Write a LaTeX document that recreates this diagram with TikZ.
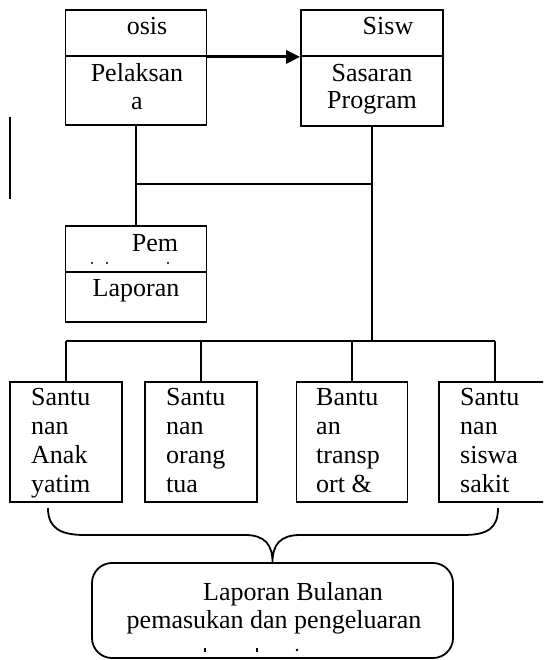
\documentclass[tikz,border=0pt]{standalone}
\usepackage{fontspec}
\setmainfont{Liberation Serif}
\usetikzlibrary{arrows.meta}
\begin{document}
\begin{tikzpicture}[x=1pt,y=-1pt,
  box/.style={draw, line width=1.8pt, inner sep=0pt},
  txt/.style={anchor=base, inner sep=0pt, font=\fontsize{26}{29}\selectfont},
  ltxt/.style={anchor=base west, inner sep=0pt, font=\fontsize{26}{29}\selectfont},
  conn/.style={line width=1.8pt},
  tick/.style={fill=black, inner sep=0pt, minimum width=2pt, minimum height=4pt}]
\useasboundingbox (0,0) rectangle (543,660);
\fill[white] (0,0) rectangle (543,660);
\clip (0,0) rectangle (543,660);

% top-left box
\node[box, minimum width=141pt, minimum height=46pt] (osisTop) at (136,33) {};
\node[box, minimum width=141pt, minimum height=69pt] (osisBot) at (136,90.5) {};
\node[txt] (t1) at (147,35) {osis};
\node[txt] (t2) at (137,82) {Pelaksan};
\node[txt] (t3) at (137,110) {a};

% top-right box
\node[box, minimum width=142pt, minimum height=46pt] (sisTop) at (372,33) {};
\node[box, minimum width=142pt, minimum height=70pt] (sisBot) at (372,91) {};
\node[txt] (t4) at (388,35) {Sisw};
\node[txt] (t5) at (372,82) {Sasaran};
\node[txt] (t6) at (372,109) {Program};

% arrow
\draw[line width=3pt, -{Triangle[length=14pt,width=13pt]}] (osisTop.south east) -- (sisTop.south west);

% stray line
\draw[line width=2pt] (10,117) -- (10,199);

% Pem box
\node[box, minimum width=141pt, minimum height=46pt] (pemTop) at (136,249) {};
\node[box, minimum width=141pt, minimum height=50pt] (pemBot) at (136,297) {};
\node[txt] (t7) at (155,251) {Pem};
\fill (92,263) circle (1.2pt) (107,263) circle (1.2pt) (168,263) circle (1.2pt);
\node[txt] (t8) at (136,296) {Laporan};

% bottom boxes
\node[box, minimum width=112pt, minimum height=120pt] (b1) at (66,442) {};
\node[box, minimum width=112pt, minimum height=120pt] (b2) at (201,442) {};
\node[box, minimum width=111pt, minimum height=120pt] (b3) at (352,442) {};
\node[box, minimum width=112pt, minimum height=120pt] (b4) at (495,442) {};

\node[ltxt] (b1a) at (31,405) {Santu};
\node[ltxt] (b1b) at (31,434) {nan};
\node[ltxt] (b1c) at (31,463) {Anak};
\node[ltxt] (b1d) at (31,492) {yatim};
\node[ltxt] (b2a) at (166,405) {Santu};
\node[ltxt] (b2b) at (166,434) {nan};
\node[ltxt] (b2c) at (166,463) {orang};
\node[ltxt] (b2d) at (166,492) {tua};
\node[ltxt] (b3a) at (316,405) {Bantu};
\node[ltxt] (b3b) at (316,434) {an};
\node[ltxt] (b3c) at (316,463) {transp};
\node[ltxt] (b3d) at (316,492) {ort \&};
\node[ltxt] (b4a) at (460,405) {Santu};
\node[ltxt] (b4b) at (460,434) {nan};
\node[ltxt] (b4c) at (460,463) {siswa};
\node[ltxt] (b4d) at (460,492) {sakit};

% connectors
\coordinate (h1) at (0,184);
\coordinate (h2) at (0,341);
\draw[conn] (osisBot.south) -- (pemTop.north);
\draw[conn] (osisBot.south |- h1) -- (sisBot.south |- h1);
\draw[conn] (sisBot.south) -- (sisBot.south |- h2);
\draw[conn] (b1.north |- h2) -- (b4.north |- h2);
\foreach \b in {b1,b2,b3,b4} \draw[conn] (\b.north |- h2) -- (\b.north);

% final box
\node[box, rounded corners=20pt, minimum width=361pt, minimum height=95pt] (fin) at (272.5,610.5) {};
\node[txt] (f1) at (293,600) {Laporan Bulanan};
\node[txt] (f2) at (274,628) {pemasukan dan pengeluaran};
\node[tick] (m1) at (205,650) {};
\node[tick] (m2) at (257,650) {};
\fill (297,650) circle (1.3pt);

% brace
\draw[conn] (48,508) .. controls (48,528) and (60,535) .. (85,535) -- (245,535)
  .. controls (265,535) and (272.5,545) .. (fin.north)
  .. controls (272.5,545) and (280,535) .. (300,535) -- (463,535)
  .. controls (488,535) and (498,528) .. (498,508);
\end{tikzpicture}
\end{document}
